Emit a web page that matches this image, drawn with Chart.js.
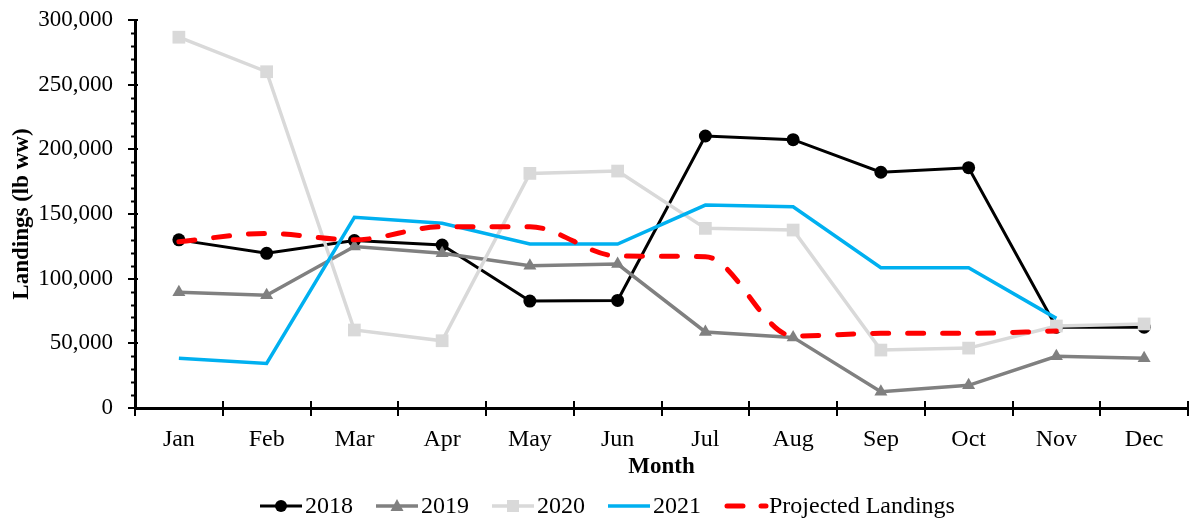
<!DOCTYPE html>
<html lang="en">
<head>
<meta charset="UTF-8">
<title>Landings by Month</title>
<script src="https://cdn.jsdelivr.net/npm/chart.js"></script>
<style>
  html, body { margin: 0; padding: 0; background: #fff; }
  #wrap { width: 1197px; height: 520px; }
</style>
</head>
<body>
<div id="wrap"><canvas id="myChart" width="1197" height="520"></canvas></div>
<script>
// data
var months = ['Jan', 'Feb', 'Mar', 'Apr', 'May', 'Jun', 'Jul', 'Aug', 'Sep', 'Oct', 'Nov', 'Dec'];
var landings2018 = [130000, 119600, 129500, 126000, 82700, 83200, 210300, 207500, 182300, 185800, 62500, 62500];
var landings2019 = [89500, 87200, 124800, 119600, 110000, 111300, 58800, 54600, 12600, 17500, 40000, 38500];
var landings2020 = [286700, 260000, 60300, 52000, 181400, 183200, 138900, 137600, 44800, 46300, 63400, 65000];
var landings2021 = [38400, 34500, 147500, 142800, 126800, 126800, 156900, 155600, 108500, 108500, 69300, null];
var projected = [128600, 135000, 130000, 140200, 140200, 117500, 117000, 55700, 57700, 57700, 59500, null];

var yTicks = [0, 50000, 100000, 150000, 200000, 250000, 300000];

var FONT = "'Liberation Serif', 'Times New Roman', serif";
Chart.defaults.font.family = FONT;
Chart.defaults.color = '#000';

var legendItems = [
    { text: '2018', color: '#000000', width: 3, marker: 'circle' },
    { text: '2019', color: '#808080', width: 3.5, marker: 'triangle' },
    { text: '2020', color: '#d9d9d9', width: 3.5, marker: 'square' },
    { text: '2021', color: '#00b0f0', width: 3.5, marker: null },
    { text: 'Projected Landings', color: '#ff0000', width: 5, marker: null, dash: true }
];

function drawMarker(ctx, type, x, y, color) {
    ctx.fillStyle = color;
    ctx.beginPath();
    if (type === 'circle') {
        ctx.arc(x, y, 6, 0, Math.PI * 2);
    } else if (type === 'triangle') {
        ctx.moveTo(x, y - 7);
        ctx.lineTo(x + 6.5, y + 5);
        ctx.lineTo(x - 6.5, y + 5);
        ctx.closePath();
    } else if (type === 'square') {
        ctx.rect(x - 6, y - 6, 12, 12);
    }
    ctx.fill();
}

// axis extras: minor ticks on y, crossing ticks on x, and the bottom legend
var extras = {
    id: 'extras',
    afterDraw: function (chart) {
        var ctx = chart.ctx;
        var ys = chart.scales.y;
        var area = chart.chartArea;
        ctx.save();
        ctx.strokeStyle = '#000';
        ctx.lineWidth = 2;
        for (var v = 10000; v < 300000; v += 10000) {
            if (v % 50000 === 0) continue;
            var py = Math.round(ys.getPixelForValue(v)) + 0.5;
            ctx.beginPath();
            ctx.moveTo(area.left - 4, py);
            ctx.lineTo(area.left + 2, py);
            ctx.stroke();
        }
        yTicks.forEach(function (t) {
            var py = Math.round(ys.getPixelForValue(t));
            ctx.beginPath();
            ctx.moveTo(area.left, py);
            ctx.lineTo(area.left + 3, py);
            ctx.stroke();
        });
        var step = (area.right - area.left) / months.length;
        for (var i = 0; i <= months.length; i++) {
            var px = Math.round(area.left + i * step);
            ctx.beginPath();
            ctx.moveTo(px, area.bottom);
            ctx.lineTo(px, area.bottom - 7);
            ctx.stroke();
        }

        // legend
        ctx.font = '24px ' + FONT;
        ctx.textBaseline = 'middle';
        var lineLen = 42, gapText = 3, gapItem = 23;
        var x = 260;
        var ly = 506;
        legendItems.forEach(function (it) {
            ctx.strokeStyle = it.color;
            ctx.lineWidth = it.width;
            ctx.lineCap = it.dash ? 'round' : 'butt';
            ctx.setLineDash(it.dash ? [16, 18] : []);
            ctx.beginPath();
            ctx.moveTo(x + (it.dash ? 3 : 0), ly);
            ctx.lineTo(x + lineLen, ly);
            ctx.stroke();
            ctx.setLineDash([]);
            if (it.marker) drawMarker(ctx, it.marker, x + lineLen / 2, ly, it.color);
            ctx.fillStyle = '#000';
            ctx.textAlign = 'left';
            ctx.fillText(it.text, x + lineLen + gapText, ly + 1);
            x += lineLen + gapText + ctx.measureText(it.text).width + gapItem;
        });
        ctx.restore();
    }
};

var data = {
    labels: months,
    datasets: [
        {
            label: '2018',
            data: landings2018,
            borderColor: '#000000',
            backgroundColor: '#000000',
            borderWidth: 3,
            pointStyle: 'circle',
            pointRadius: 6.5,
            pointBorderWidth: 0,
            order: 5
        },
        {
            label: '2019',
            data: landings2019,
            borderColor: '#808080',
            backgroundColor: '#808080',
            borderWidth: 3.5,
            pointStyle: 'triangle',
            pointRadius: 7.5,
            pointBorderWidth: 0,
            order: 4
        },
        {
            label: '2020',
            data: landings2020,
            borderColor: '#d9d9d9',
            backgroundColor: '#d9d9d9',
            borderWidth: 3.5,
            pointStyle: 'rect',
            pointRadius: 9,
            pointBorderWidth: 0,
            order: 3
        },
        {
            label: '2021',
            data: landings2021,
            borderColor: '#00b0f0',
            backgroundColor: '#00b0f0',
            borderWidth: 3.5,
            pointRadius: 0,
            order: 2
        },
        {
            label: 'Projected Landings',
            data: projected,
            borderColor: '#ff0000',
            backgroundColor: '#ff0000',
            borderWidth: 5,
            borderDash: [16, 19],
            borderCapStyle: 'round',
            pointRadius: 0,
            cubicInterpolationMode: 'monotone',
            order: 1
        }
    ]
};

var options = {
    responsive: false,
    animation: false,
    layout: { padding: { left: 0, right: 7, top: 20, bottom: 32 } },
    plugins: {
        legend: { display: false },
        tooltip: { enabled: false }
    },
    elements: { line: { tension: 0 } },
    scales: {
        x: {
            type: 'category',
            offset: true,
            grid: {
                offset: true,
                drawOnChartArea: false,
                drawTicks: true,
                tickLength: 8,
                color: '#000',
                lineWidth: 2
            },
            border: { display: true, color: '#000', width: 3 },
            ticks: { font: { size: 24 }, padding: 9, maxRotation: 0, autoSkip: false },
            title: {
                display: true,
                text: 'Month',
                font: { size: 23, weight: 'bold' },
                padding: { top: 2, bottom: 7 }
            },
            afterFit: function (s) {
                s.height = 80;
                s.paddingLeft = 0;
                s.paddingRight = 0;
            }
        },
        y: {
            min: 0,
            max: 300000,
            afterBuildTicks: function (s) {
                s.ticks = yTicks.map(function (v) { return { value: v }; });
            },
            grid: {
                drawOnChartArea: false,
                drawTicks: true,
                tickLength: 7,
                color: '#000',
                lineWidth: 2
            },
            border: { display: true, color: '#000', width: 3 },
            ticks: {
                font: { size: 23 },
                padding: 15,
                callback: function (v) { return Number(v).toLocaleString('en-US'); }
            },
            title: {
                display: true,
                text: 'Landings (lb ww)',
                font: { size: 23, weight: 'bold' },
                padding: { top: 8, bottom: 4 }
            },
            afterFit: function (s) {
                s.width = 135;
                s.paddingTop = 0;
                s.paddingBottom = 0;
            }
        }
    }
};

var ctx = document.getElementById('myChart').getContext('2d');
var myChart = new Chart(ctx, {
    type: 'line',
    data: data,
    options: options,
    plugins: [extras]
});
</script>
</body>
</html>
